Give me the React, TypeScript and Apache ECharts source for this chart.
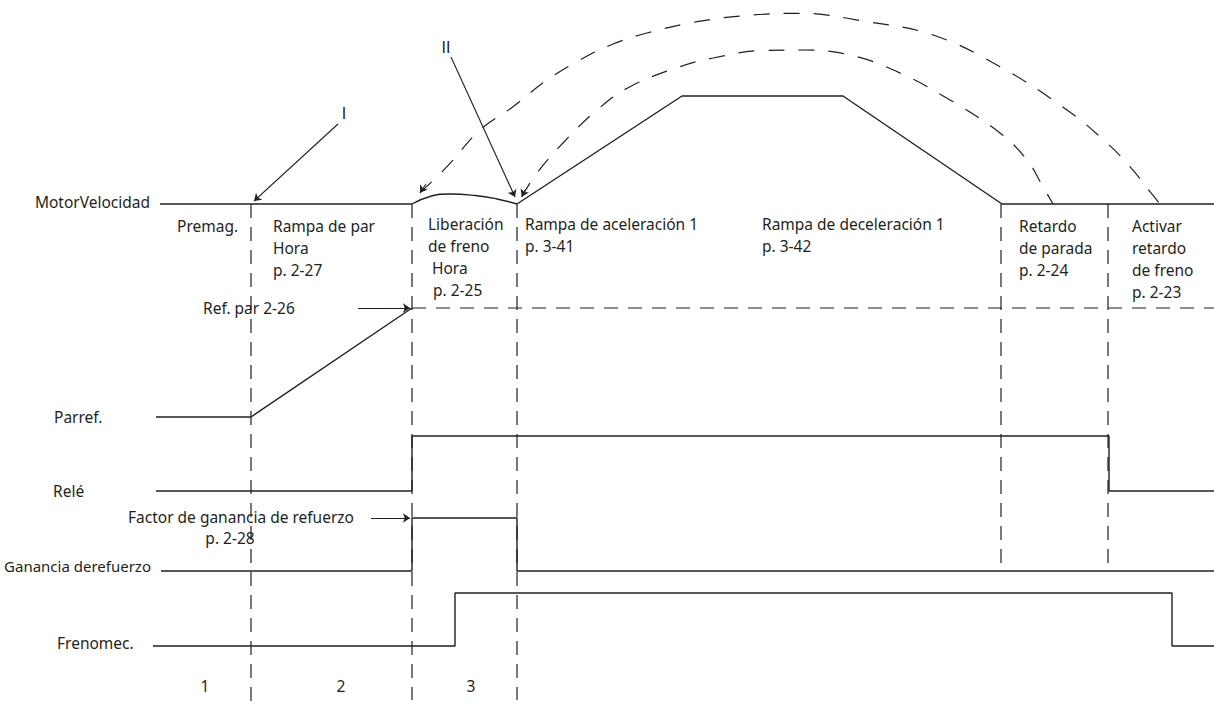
import React, { useEffect, useRef } from "react";
import * as echarts from "echarts";

// ---- data (time on x, signal level on y; y axis inverted) ----
const motorSpeedIdle = [[160, 204], [412, 204]];
const brakeReleaseHump = [[412, 204], [430, 196.5], [450, 194], [475, 195.5], [497, 199], [517, 204]];
const motorSpeedProfile = [[517, 204], [682, 96], [843, 96], [1002, 204], [1214, 204]];
const torqueRef = [[156, 417], [251, 417], [412, 308]];
const torqueRefHold = [[412, 308], [1214, 308]];
const relay = [[156, 491], [412, 491], [412, 436], [1109, 436], [1109, 491], [1214, 491]];
const boostGain = [[161, 571], [412, 571], [412, 518], [517, 518], [517, 571], [1214, 571]];
const mechBrake = [[153, 646], [455, 646], [455, 593], [1172, 593], [1172, 646], [1214, 646]];

const phaseLines = [
  [[251, 204], [251, 704]],
  [[412, 204], [412, 700]],
  [[517, 204], [517, 700]],
  [[1001, 204], [1001, 571]],
  [[1108, 204], [1108, 571]],
];

const outerArc = [
  [420, 192.7], [447, 166.7], [480, 130], [513, 106.7], [547, 80], [580, 60], [613, 44],
  [647, 33], [697, 21.7], [747, 15.5], [800, 13.3], [867, 21.7], [933, 35], [1000, 66.7],
  [1067, 110], [1107, 143], [1130, 166.7], [1150, 191.7], [1160, 204],
];
const innerArc = [
  [521.7, 196.7], [537, 173], [563, 143], [597, 110], [630, 86.7], [680, 66.7], [713, 58],
  [763, 50.5], [800, 50], [850, 55], [900, 73], [950, 100], [1000, 133], [1027, 160],
  [1043, 186.7], [1053, 204],
];

const arrows = [
  [[338, 124], [254, 201]], // I
  [[451, 57], [515, 197]], // II
  [[358, 308], [410, 308]], // Ref. par
  [[371, 518], [410, 518]], // Factor
  [[426, 184], [420, 192.7]], // outer arc head
  [[525, 190], [521.7, 196.7]], // inner arc head
];

const INK = "#231f20";
const FONT = "15.5px 'Noto Sans'";
const FONT_SMALL = "15px 'Noto Sans'";
const FONT_ROMAN = "16px 'Liberation Sans'";

type T = { t: string; x: number; y: number; a?: string; v?: string; f?: string };
const texts: T[] = [
  { t: "MotorVelocidad", x: 150, y: 202, a: "right" },
  { t: "Premag.", x: 177, y: 226 },
  { t: "Rampa de par\nHora\np. 2-27", x: 273, y: 215, v: "top" },
  { t: "Liberación\nde freno", x: 428, y: 213, v: "top" },
  { t: "Hora", x: 432, y: 268 },
  { t: "p. 2-25", x: 433, y: 290 },
  { t: "Rampa de aceleración 1\np. 3-41", x: 525, y: 213, v: "top" },
  { t: "Rampa de deceleración 1\np. 3-42", x: 762, y: 213, v: "top" },
  { t: "Retardo\nde parada\np. 2-24", x: 1019, y: 215, v: "top" },
  { t: "Activar\nretardo\nde freno\np. 2-23", x: 1132, y: 215, v: "top" },
  { t: "Ref. par 2-26", x: 203, y: 308 },
  { t: "Parref.", x: 54, y: 417 },
  { t: "Relé", x: 53, y: 491 },
  { t: "Factor de ganancia de refuerzo", x: 354, y: 517, a: "right" },
  { t: "p. 2-28", x: 230, y: 538, a: "center" },
  { t: "Ganancia derefuerzo", x: 151, y: 566, a: "right", f: FONT_SMALL },
  { t: "Frenomec.", x: 57, y: 643 },
  { t: "1", x: 205, y: 686, a: "center" },
  { t: "2", x: 341, y: 686, a: "center" },
  { t: "3", x: 471, y: 686, a: "center" },
  { t: "I", x: 344, y: 113, a: "center", f: FONT_ROMAN },
  { t: "II", x: 446, y: 47, a: "center", f: FONT_ROMAN },
];

function solid(data: number[][], smooth = false) {
  return {
    type: "line",
    data,
    smooth,
    symbol: "none",
    silent: true,
    lineStyle: { color: INK, width: 1.4 },
  };
}
function dashed(data: number[][], dash: number[], smooth: boolean | number = false) {
  return {
    type: "line",
    data,
    smooth,
    symbol: "none",
    silent: true,
    lineStyle: { color: INK, width: 1.2, type: dash },
  };
}

export default function App() {
  const ref = useRef<HTMLDivElement>(null);
  useEffect(() => {
    if (!ref.current) return;
    const chart = echarts.init(ref.current, undefined, { renderer: "svg" });
    const series: any[] = [
      solid(motorSpeedIdle),
      solid(brakeReleaseHump, true),
      solid(motorSpeedProfile),
      solid(torqueRef),
      dashed(torqueRefHold, [14, 10]),
      solid(relay),
      solid(boostGain),
      solid(mechBrake),
      ...phaseLines.map((d) => dashed(d, [14, 9])),
      dashed(outerArc, [16, 14], 0.4),
      dashed(innerArc, [16, 14], 0.4),
      {
        type: "lines",
        coordinateSystem: "cartesian2d",
        silent: true,
        symbol: ["none", "arrow"],
        symbolSize: 7,
        lineStyle: { color: INK, width: 1.1, opacity: 1 },
        data: arrows.map((c) => ({ coords: c })),
      },
    ];
    chart.setOption({
      animation: false,
      backgroundColor: "#ffffff",
      grid: { left: 0, right: 0, top: 0, bottom: 0 },
      xAxis: { type: "value", min: 0, max: 1214, show: false },
      yAxis: { type: "value", min: 0, max: 704, inverse: true, show: false },
      series,
      graphic: texts.map((s) => ({
        type: "text",
        x: s.x,
        y: s.y,
        silent: true,
        style: {
          text: s.t,
          font: s.f || FONT,
          fill: INK,
          lineHeight: 22,
          textAlign: s.a || "left",
          align: s.a || "left",
          textVerticalAlign: s.v || "middle",
          verticalAlign: s.v || "middle",
        },
      })),
    });
    return () => chart.dispose();
  }, []);
  return (
    <div
      ref={ref}
      style={{ position: "absolute", left: 0, top: 0, width: 1214, height: 704, background: "#fff" }}
    />
  );
}
